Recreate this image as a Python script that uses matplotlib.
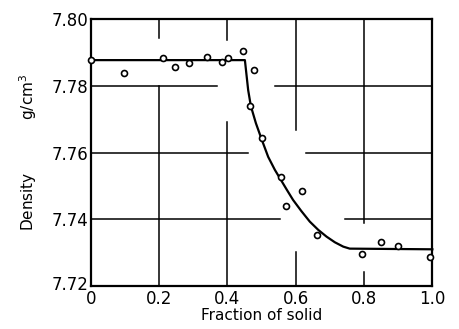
import matplotlib
matplotlib.use("Agg")
import matplotlib.pyplot as plt
import matplotlib.transforms as mtransforms

# measured points (fraction of solid, density)
frac_solid = [0.0, 0.097, 0.21, 0.246, 0.287, 0.34, 0.384, 0.402, 0.444, 0.478,
              0.467, 0.501, 0.556, 0.617, 0.570, 0.663, 0.794, 0.849, 0.899, 0.994]
density = [7.7877, 7.7837, 7.7882, 7.7857, 7.7869, 7.7885, 7.7872, 7.7882, 7.7904, 7.7847,
           7.7739, 7.7643, 7.7526, 7.7485, 7.7440, 7.7353, 7.7296, 7.7333, 7.7321, 7.7287]

# fitted curve as drawn
curve_x = [0.0, 0.451, 0.4606, 0.4685, 0.4832, 0.4999, 0.5192, 0.5388, 0.5564, 0.574,
           0.592, 0.616, 0.641, 0.666, 0.690, 0.7145, 0.739, 0.758, 1.0]
curve_y = [7.7877, 7.7877, 7.7787, 7.7739, 7.7688, 7.7640, 7.7587, 7.7548, 7.7518, 7.7488,
           7.7458, 7.7425, 7.7393, 7.7368, 7.7348, 7.7331, 7.7318, 7.7312, 7.7310]

x_ticks = [0.0, 0.2, 0.4, 0.6, 0.8, 1.0]
x_labels = ["0", "0.2", "0.4", "0.6", "0.8", "1.0"]
y_ticks = [7.72, 7.74, 7.76, 7.78, 7.80]
y_labels = ["7.72", "7.74", "7.76", "7.78", "7.80"]

# grid lines in the original are broken around the data
v_grid = {0.2: [(7.72, 7.78), (7.7943, 7.80)],
          0.4: [(7.72, 7.7692), (7.7937, 7.80)],
          0.6: [(7.72, 7.7303), (7.7667, 7.80)],
          0.8: [(7.72, 7.7243), (7.7389, 7.80)]}
h_grid = {7.78: [(0.0, 0.368), (0.538, 1.0)],
          7.76: [(0.0, 0.46), (0.631, 1.0)],
          7.74: [(0.0, 0.553), (0.743, 1.0)]}

plt.rcParams['font.family'] = ['DejaVu Sans']

fig = plt.figure(figsize=(4.59, 3.29), dpi=100)
ax = fig.add_axes([0.198, 0.1307, 0.744, 0.8113])

for xv, segs in v_grid.items():
    for y0, y1 in segs:
        ax.plot([xv, xv], [y0, y1], color='black', lw=1.1)
for yv, segs in h_grid.items():
    for x0, x1 in segs:
        ax.plot([x0, x1], [yv, yv], color='black', lw=1.1)

ax.plot(curve_x, curve_y, color='black', lw=1.6, clip_on=False, zorder=3)
ax.plot(frac_solid, density, 'o', ms=4.3, mfc='white', mec='black', mew=1.2,
        clip_on=False, zorder=4)

ax.set_xlim(0, 1.0)
ax.set_ylim(7.72, 7.80)
ax.set_xticks(x_ticks)
ax.set_xticklabels(x_labels)
ax.set_yticks(y_ticks)
ax.set_yticklabels(y_labels)
ax.tick_params(length=0, labelsize=12)
ax.tick_params(axis='y', pad=2)
ax.tick_params(axis='x', pad=3)
for s in ax.spines.values():
    s.set_linewidth(1.6)

# lift the bottom y label a little so it clears the "0"
lbl = ax.get_yticklabels()[0]
lbl.set_transform(lbl.get_transform() + mtransforms.ScaledTranslation(0, 2.5 / 72, fig.dpi_scale_trans))

ax.set_xlabel("Fraction of solid", fontsize=11, labelpad=0)
ax.set_ylabel("Density           g/cm$^3$", fontsize=11, labelpad=9)

fig.savefig("out.png", dpi=100)
